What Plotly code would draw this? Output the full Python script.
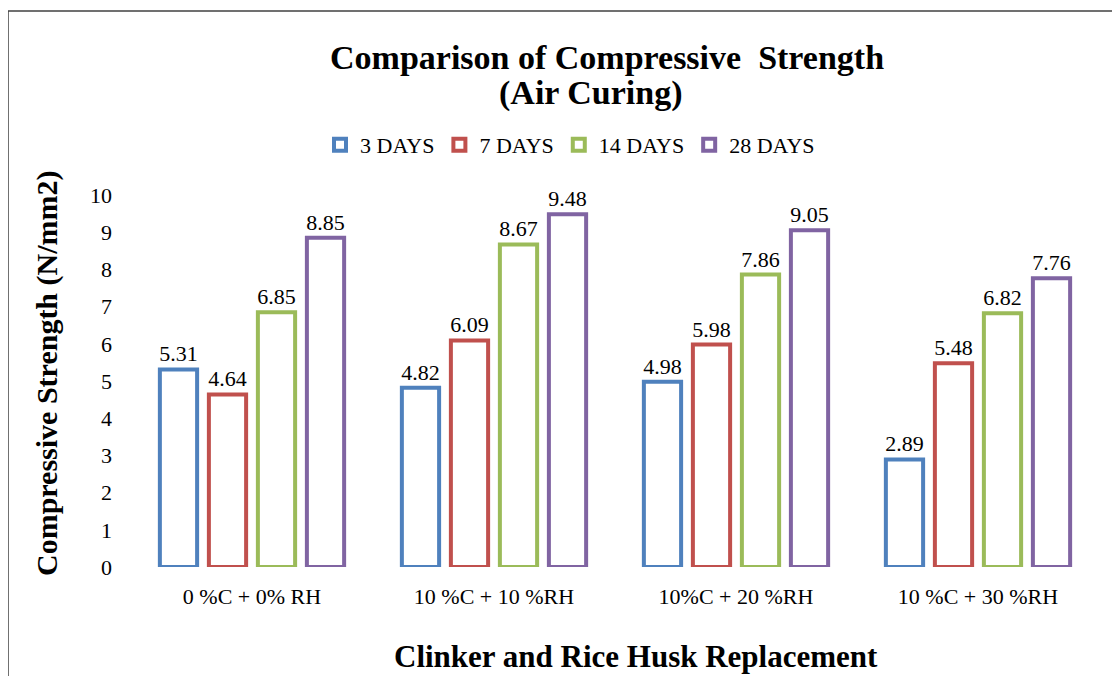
import plotly.graph_objects as go

categories = ["0 %C + 0% RH", "10 %C + 10 %RH", "10%C + 20 %RH", "10 %C + 30 %RH"]
series_names = ["3 DAYS", "7 DAYS", "14 DAYS", "28 DAYS"]
days3 = [5.31, 4.82, 4.98, 2.89]
days7 = [4.64, 6.09, 5.98, 5.48]
days14 = [6.85, 8.67, 7.86, 6.82]
days28 = [8.85, 9.48, 9.05, 7.76]
colors = ["#4F81BD", "#C0504D", "#9BBB59", "#8064A2"]
y_ticks = [0, 1, 2, 3, 4, 5, 6, 7, 8, 9, 10]

FONT = "Liberation Serif"
W, H = 1120, 676
OFF = 8  # page body margin
L, R, T, B = 123, 29, 187, 117
pw, ph = W - L - R, H - T - B

fig = go.Figure()
for name, vals, col in zip(series_names, [days3, days7, days14, days28], colors):
    fig.add_trace(go.Bar(
        name=name, x=categories, y=vals,
        marker=dict(color="white", line=dict(color=col, width=4)),
        text=[f"{v:.2f}" for v in vals], textposition="outside",
        textfont=dict(family=FONT, size=22, color="black"),
        constraintext="none", cliponaxis=False,
    ))

def px_x(px):
    return (px - OFF - L) / pw

def px_y(py):
    return (H - B - (py - OFF)) / ph

def label(text, x, y, size, angle=0):
    return dict(text=text, x=px_x(x), y=px_y(y), xref="paper", yref="paper",
                xanchor="center", yanchor="middle", textangle=angle,
                showarrow=False, font=dict(family=FONT, size=size))

fig.update_layout(
    width=W, height=H, autosize=False,
    margin=dict(l=L, r=R, t=T, b=B, autoexpand=False),
    paper_bgcolor="white", plot_bgcolor="white",
    barmode="group", bargap=0.19, bargroupgap=0.24,
    font=dict(family=FONT, color="black"),
    showlegend=True,
    legend=dict(orientation="h", x=px_x(570), xanchor="center",
                y=px_y(145), yanchor="middle",
                font=dict(family=FONT, size=22),
                tracegroupgap=0, itemwidth=30),
    xaxis=dict(showline=False, showgrid=False, zeroline=False, ticks="",
               tickangle=0,
               tickfont=dict(family=FONT, size=22), ticklabelstandoff=14),
    yaxis=dict(range=[0, 10], tickvals=y_ticks, showline=False, showgrid=False,
               zeroline=False, ticks="", tickfont=dict(family=FONT, size=22),
               ticklabelstandoff=18),
    annotations=[
        label("<b>Comparison of Compressive  Strength</b>", 607, 57, 34),
        label("<b>(Air Curing)</b>", 591, 93, 34),
        label("<b>Compressive Strength (N/mm2)</b>", 47, 373, 30, angle=-90),
        label("<b>Clinker and Rice Husk Replacement</b>", 636, 656, 31),
    ],
    shapes=[
        dict(type="line", xref="paper", yref="paper",
             x0=px_x(8), y0=px_y(11), x1=px_x(1135), y1=px_y(11),
             line=dict(color="#404040", width=1.5)),
        dict(type="line", xref="paper", yref="paper",
             x0=px_x(8), y0=px_y(11), x1=px_x(8), y1=px_y(700),
             line=dict(color="#404040", width=1.5)),
    ],
)

fig.write_html("out.html")
